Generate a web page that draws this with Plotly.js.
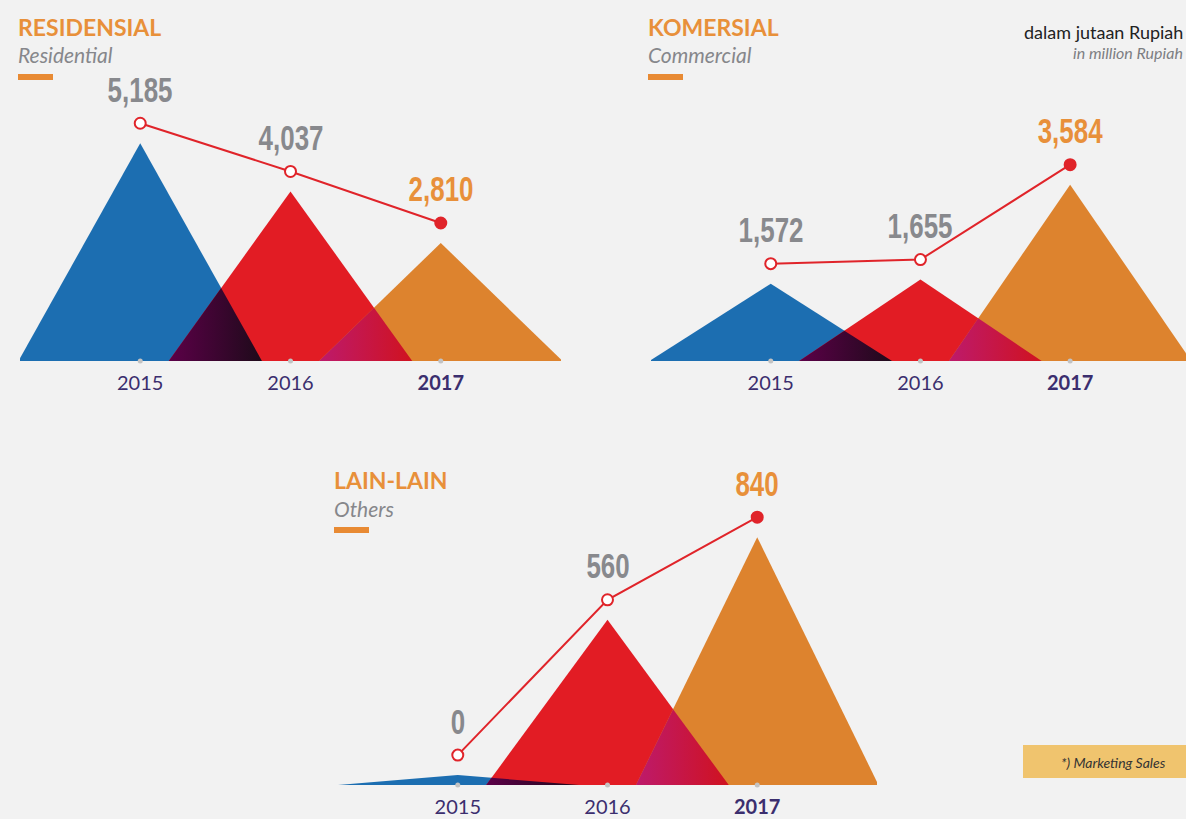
<!DOCTYPE html>
<html>
<head>
<meta charset="utf-8">
<script src="https://cdn.plot.ly/plotly-3.0.1.min.js"></script>
<style>
html,body{margin:0;padding:0;background:#f2f2f2;}
#chart{width:1186px;height:819px;}
</style>
</head>
<body>
<div id="chart"></div>
<script>
// ---- data ----
const years = ['2015', '2016', '2017'];
const yearTickText = ['2015', '2016', '<b>2017</b>'];
const residentialValues = [5185, 4037, 2810];
const commercialValues = [1572, 1655, 3584];
const othersValues = [0, 560, 840];
const panelTitles = ['RESIDENSIAL', 'KOMERSIAL', 'LAIN-LAIN'];
const panelSubtitles = ['Residential', 'Commercial', 'Others'];
const unitText = 'dalam jutaan Rupiah';
const unitSubText = 'in million Rupiah';
const noteText = '*) Marketing Sales';

// ---- style ----
const W = 1186, H = 819;
const triColors = ['#1c6eb1', '#e21c24', '#dd832e'];
const overlapScales = [
  [[0, '#5c0048'], [1, '#1e0a1a']],
  [[0, '#bd1a6c'], [1, '#d0121f']]
];
const lineColor = '#e0242a';
const numGray = '#88898d';
const orange = '#e8903a';
const tickColor = '#3b2e6e';
const halfWidth = 0.81;

const px = v => v / W;
const py = v => 1 - v / H;

// panels: geometry in pixels
const panels = [
  {values: residentialValues, left: 20, right: 561, xmin: -0.8, xmax: 2.8, base: 361, top: 60, k: 0.042, tx: 16, ty: 27},
  {values: commercialValues, left: 651, right: 1186, xmin: -0.8, xmax: 2.774, base: 361, top: 60, k: 0.0492, tx: 646, ty: 27},
  {values: othersValues, left: 338, right: 877, xmin: -0.8, xmax: 2.8, base: 785, top: 480, k: 0.295, tx: 332, ty: 480}
];

const traces = [];
const annotations = [];
const shapes = [];
const layout = {
  width: W, height: H,
  margin: {l: 0, r: 0, t: 0, b: 0},
  paper_bgcolor: '#f2f2f2',
  plot_bgcolor: 'rgba(0,0,0,0)',
  showlegend: false,
  hovermode: false,
  annotations: annotations,
  shapes: shapes
};

panels.forEach((p, pi) => {
  const n = pi + 1;
  const xa = 'x' + (n === 1 ? '' : n), ya = 'y' + (n === 1 ? '' : n);
  const xKey = 'xaxis' + (n === 1 ? '' : n), yKey = 'yaxis' + (n === 1 ? '' : n);
  const yTop = (p.base - p.top) / p.k;
  layout[xKey] = {
    domain: [px(p.left), px(p.right)],
    range: [p.xmin, p.xmax],
    anchor: ya,
    showgrid: false, zeroline: false, showline: false,
    ticks: '',
    tickvals: [0, 1, 2],
    ticktext: yearTickText,
    tickfont: {family: 'Lato, sans-serif', size: 20, color: tickColor},
    ticklabelstandoff: 8,
    fixedrange: true
  };
  layout[yKey] = {
    domain: [py(p.base), py(p.top)],
    range: [0, yTop],
    anchor: xa,
    visible: false,
    fixedrange: true
  };
  const maxV = Math.max(...p.values);
  const heights = p.values.map(v => Math.max(v, maxV * 0.04));
  // triangles
  heights.forEach((h, i) => {
    traces.push({
      type: 'scatter', mode: 'lines', xaxis: xa, yaxis: ya,
      x: [i - halfWidth, i, i + halfWidth, i - halfWidth],
      y: [0, h, 0, 0],
      fill: 'toself', fillcolor: triColors[i],
      line: {width: 0, color: triColors[i]},
      hoverinfo: 'skip'
    });
  });
  // overlaps
  for (let i = 0; i < 2; i++) {
    const h0 = heights[i], h1 = heights[i + 1];
    const a = i + halfWidth, b = i + 1 - halfWidth;
    const xs = (h0 * a + h1 * b) / (h0 + h1);
    const ys = h0 * (a - xs) / halfWidth;
    traces.push({
      type: 'scatter', mode: 'lines', xaxis: xa, yaxis: ya,
      x: [b, xs, a, b], y: [0, ys, 0, 0],
      fill: 'toself',
      fillcolor: overlapScales[i][1][1],
      fillgradient: {type: 'horizontal', colorscale: overlapScales[i]},
      line: {width: 0},
      hoverinfo: 'skip'
    });
  }
  // base dots
  traces.push({
    type: 'scatter', mode: 'markers', xaxis: xa, yaxis: ya,
    x: [0, 1, 2], y: [0, 0, 0],
    marker: {size: 5, color: '#c3c3c3'},
    cliponaxis: false, hoverinfo: 'skip'
  });
  // line with markers (sits 20px above the triangle apex)
  const off = 20 / p.k;
  const lineY = heights.map(h => h + off);
  traces.push({
    type: 'scatter', mode: 'lines+markers', xaxis: xa, yaxis: ya,
    x: [0, 1, 2], y: lineY,
    line: {color: lineColor, width: 2},
    marker: {size: 11, color: ['#ffffff', '#ffffff', lineColor], line: {color: lineColor, width: 2}},
    cliponaxis: false, hoverinfo: 'skip'
  });
  // value labels
  p.values.forEach((v, i) => {
    annotations.push({
      xref: xa, yref: ya, x: i, y: lineY[i], yshift: 34,
      text: '<b>' + v.toLocaleString('en-US') + '</b>',
      showarrow: false,
      name: 'valueLabel',
      font: {family: '"Liberation Sans", Arial, sans-serif', size: 36, color: i === 2 ? orange : numGray}
    });
  });
  // titles
  annotations.push({
    xref: 'paper', yref: 'paper', x: px(p.tx), y: py(p.ty), xanchor: 'left', yanchor: 'middle',
    text: '<b>' + panelTitles[pi] + '</b>', showarrow: false,
    font: {family: 'Lato, sans-serif', size: 23, color: orange}
  });
  annotations.push({
    xref: 'paper', yref: 'paper', x: px(p.tx), y: py(p.ty + 28), xanchor: 'left', yanchor: 'middle',
    text: '<i>' + panelSubtitles[pi] + '</i>', showarrow: false,
    font: {family: 'Lato, sans-serif', size: 21, color: '#86878b'}
  });
  shapes.push({
    type: 'rect', xref: 'paper', yref: 'paper',
    x0: px(p.tx + 2), x1: px(p.tx + 37), y0: py(p.ty + 53), y1: py(p.ty + 47),
    fillcolor: '#e88a33', line: {width: 0}
  });
});

// unit note
annotations.push({
  xref: 'paper', yref: 'paper', x: px(1185), y: py(32), xanchor: 'right', yanchor: 'middle',
  text: unitText, showarrow: false,
  font: {family: 'Lato, sans-serif', size: 18, color: '#222222'}
});
annotations.push({
  xref: 'paper', yref: 'paper', x: px(1185), y: py(53), xanchor: 'right', yanchor: 'middle',
  text: '<i>' + unitSubText + '</i>', showarrow: false,
  font: {family: 'Lato, sans-serif', size: 16, color: '#7d7e82'}
});
// marketing sales box
shapes.push({
  type: 'rect', xref: 'paper', yref: 'paper',
  x0: px(1023), x1: px(1186), y0: py(778), y1: py(745),
  fillcolor: '#f0c46e', line: {width: 0}
});
annotations.push({
  xref: 'paper', yref: 'paper', x: px(1168), y: py(762), xanchor: 'right', yanchor: 'middle',
  text: '<i>' + noteText + '</i>', showarrow: false,
  font: {family: 'Lato, sans-serif', size: 14, color: '#333333'}
});

Plotly.newPlot('chart', traces, layout, {staticPlot: true, displayModeBar: false}).then(() => {
  // condense the value labels horizontally (narrow display face in the reference)
  document.querySelectorAll('#chart .annotation-text').forEach(t => {
    if (/^[\d,]+$/.test(t.textContent.trim())) {
      t.style.transformBox = 'fill-box';
      t.style.transformOrigin = 'center';
      t.style.transform = 'scaleX(0.72)';
    }
  });
});
</script>
</body>
</html>
